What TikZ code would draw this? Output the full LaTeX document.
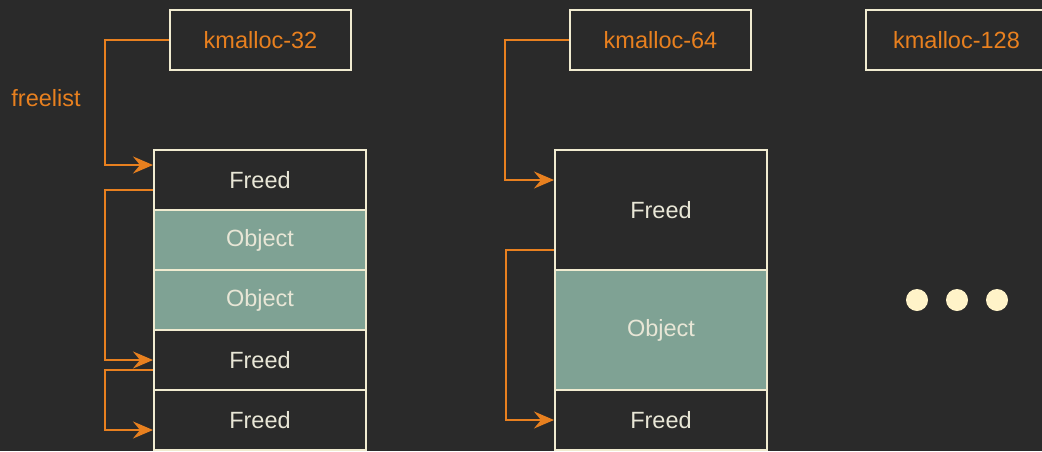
\documentclass[tikz,border=0pt]{standalone}
\usepackage{fontspec}
\setmainfont{Liberation Sans}
\usetikzlibrary{arrows.meta}
\definecolor{fondo}{HTML}{2A2A2A}
\definecolor{borde}{HTML}{F0EBD0}
\definecolor{naranja}{HTML}{E8801F}
\definecolor{salvia}{HTML}{7FA294}
\definecolor{letra}{HTML}{E8E6D6}
\definecolor{crema}{HTML}{FFF3C8}

\begin{document}
\begin{tikzpicture}[font=\fontsize{23.5}{28}\selectfont,
  cache/.style={draw=borde,line width=2pt,fill=fondo,text=naranja,minimum width=181pt,minimum height=60pt,inner sep=0pt},
  libre/.style={draw=borde,line width=2pt,fill=fondo,text=letra,minimum width=212pt,inner sep=0pt},
  objeto/.style={libre,fill=salvia},
  enlace/.style={draw=naranja,line width=2pt,-{Stealth[length=20pt,width=17pt,inset=7pt]}},
  punto/.style={circle,fill=crema,minimum size=22pt,inner sep=0pt}]
\begin{scope}[x=1pt,y=-1pt]
\fill[fondo] (0,0) rectangle (1042,451);
\useasboundingbox (0,0) rectangle (1042,451);
\node[cache] (k32) at (260.5,40) {kmalloc-32};
\node[cache] (k64) at (660.5,40) {kmalloc-64};
\node[cache] (k128) at (956.5,40) {kmalloc-128};
\node[text=naranja] (lista) at (46,98) {freelist};
\foreach \n/\y/\s/\t in {a1/180/libre/Freed, a2/240/objeto/Object, a3/300/objeto/Object, a4/360/libre/Freed, a5/420/libre/Freed}{
  \node[\s,minimum height=60pt] (\n) at (260,\y) {\t};
}
\foreach \n/\y/\h/\s/\t in {b1/210/120/libre/Freed, b2/330/120/objeto/Object, b3/420/60/libre/Freed}{
  \node[\s,minimum height=\h pt] (\n) at (661,\y) {\t};
}
\draw[enlace] (k32.west) -- ++(-64,0) |- ([yshift=15pt]a1.west);
\draw[enlace] ([yshift=-10pt]a1.west) -- ++(-48,0) |- (a4.west);
\draw[enlace] ([yshift=-10pt]a4.west) -- ++(-48,0) |- ([yshift=-10pt]a5.west);
\draw[enlace] (k64.west) -- ++(-64,0) |- ([yshift=30pt]b1.west);
\draw[enlace] ([yshift=-40pt]b1.west) -- ++(-48,0) |- (b3.west);
\foreach \x in {917,957,997}{
  \node[punto] (p\x) at (\x,300) {};
}
\end{scope}
\end{tikzpicture}
\end{document}
